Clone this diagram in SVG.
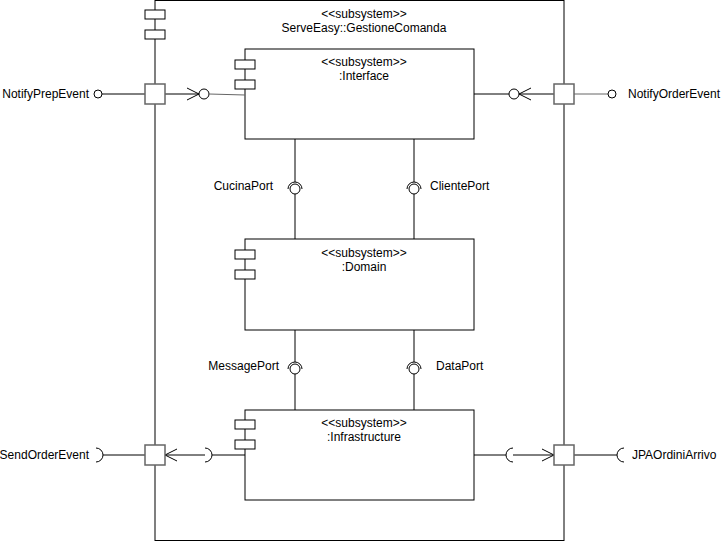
<svg xmlns="http://www.w3.org/2000/svg" width="721" height="542" viewBox="0 0 721 542">
<style>
.box{fill:#fff;stroke:#000;stroke-width:1}
.ico{fill:#fff;stroke:#000;stroke-width:1}
.port{fill:#fff;stroke:#666;stroke-width:1.5}
.ln{fill:none;stroke:#000;stroke-width:1}
.gl{fill:none;stroke:#666;stroke-width:1}
.t{font-family:"Liberation Sans",Arial,sans-serif;font-size:12px;fill:#000}
.c{text-anchor:middle}
.e{text-anchor:end}
</style>
<defs>
<marker id="open" markerWidth="14" markerHeight="14" refX="13" refY="7" orient="auto" markerUnits="userSpaceOnUse">
<path d="M1,1 L13,7 L1,13" fill="none" stroke="#000" stroke-width="1"/>
</marker>
</defs>
<g id="subsystem">
<rect class="box" x="155" y="0.5" width="409" height="540"/>
<rect class="ico" x="145" y="10" width="20" height="9"/>
<rect class="ico" x="145" y="30" width="20" height="9"/>
<text class="t c" x="364" y="18">&lt;&lt;subsystem&gt;&gt;</text>
<text class="t c" x="364" y="32">ServeEasy::GestioneComanda</text>
</g>
<g id="interface">
<rect class="box" x="245" y="49" width="229" height="90"/>
<rect class="ico" x="235" y="60" width="20" height="9"/>
<rect class="ico" x="235" y="80" width="20" height="9"/>
<text class="t c" x="364" y="66">&lt;&lt;subsystem&gt;&gt;</text>
<text class="t c" x="364" y="80">:Interface</text>
</g>
<g id="domain">
<rect class="box" x="245" y="239" width="229" height="91"/>
<rect class="ico" x="235" y="250" width="20" height="9"/>
<rect class="ico" x="235" y="270" width="20" height="9"/>
<text class="t c" x="364" y="257">&lt;&lt;subsystem&gt;&gt;</text>
<text class="t c" x="364" y="271">:Domain</text>
</g>
<g id="infrastructure">
<rect class="box" x="245" y="410" width="229" height="90"/>
<rect class="ico" x="235" y="420" width="20" height="9"/>
<rect class="ico" x="235" y="440" width="20" height="9"/>
<text class="t c" x="364" y="427">&lt;&lt;subsystem&gt;&gt;</text>
<text class="t c" x="364" y="441">:Infrastructure</text>
</g>
<g id="connectors">
<!-- top left -->
<line class="ln" x1="102" y1="94" x2="145" y2="94"/>
<circle class="ln" cx="98" cy="94" r="4"/>
<line class="ln" x1="165" y1="94" x2="199" y2="94" marker-end="url(#open)"/>
<circle class="ln" cx="204" cy="94" r="5"/>
<line class="gl" x1="209" y1="94" x2="245" y2="95"/>
<!-- top right -->
<line class="ln" x1="474" y1="94" x2="509" y2="94"/>
<circle class="ln" cx="514" cy="94" r="5"/>
<line class="ln" x1="554" y1="94" x2="519" y2="94" marker-end="url(#open)"/>
<line class="gl" x1="574" y1="94" x2="608" y2="94"/>
<circle class="ln" cx="612" cy="94" r="4"/>
<!-- vertical Interface-Domain -->
<line class="ln" x1="295" y1="139" x2="295" y2="182"/>
<path class="ln" d="M288,189 A7,7 0 0 1 302,189"/>
<circle class="ln" cx="295" cy="189" r="5"/>
<line class="ln" x1="295" y1="194" x2="295" y2="239"/>
<line class="ln" x1="414" y1="139" x2="414" y2="182"/>
<path class="ln" d="M407,189 A7,7 0 0 1 421,189"/>
<circle class="ln" cx="414" cy="189" r="5"/>
<line class="ln" x1="414" y1="194" x2="414" y2="239"/>
<!-- vertical Domain-Infrastructure -->
<line class="ln" x1="295" y1="330" x2="295" y2="362"/>
<path class="ln" d="M288,369 A7,7 0 0 1 302,369"/>
<circle class="ln" cx="295" cy="369" r="5"/>
<line class="ln" x1="295" y1="374" x2="295" y2="410"/>
<line class="ln" x1="414" y1="330" x2="414" y2="362"/>
<path class="ln" d="M407,369 A7,7 0 0 1 421,369"/>
<circle class="ln" cx="414" cy="369" r="5"/>
<line class="ln" x1="414" y1="374" x2="414" y2="410"/>
<!-- bottom left -->
<path class="ln" d="M96,448 A7,7 0 0 1 96,462"/>
<line class="ln" x1="103" y1="455" x2="145" y2="455"/>
<line class="ln" x1="205" y1="455" x2="165" y2="455" marker-end="url(#open)"/>
<path class="ln" d="M205,448 A7,7 0 0 1 205,462"/>
<line class="ln" x1="212" y1="455" x2="245" y2="455"/>
<!-- bottom right -->
<line class="ln" x1="474" y1="455" x2="506" y2="455"/>
<path class="ln" d="M513,448 A7,7 0 0 0 513,462"/>
<line class="ln" x1="513" y1="455" x2="554" y2="455" marker-end="url(#open)"/>
<line class="ln" x1="574" y1="455" x2="617" y2="455"/>
<path class="ln" d="M624,448 A7,7 0 0 0 624,462"/>
</g>
<g id="ports">
<rect class="port" x="145" y="84" width="20" height="20"/>
<rect class="port" x="554" y="84" width="20" height="20"/>
<rect class="port" x="145" y="445" width="20" height="20"/>
<rect class="port" x="554" y="445" width="20" height="20"/>
</g>
<g id="labels">
<text class="t e" x="89" y="98">NotifyPrepEvent</text>
<text class="t" x="628" y="98">NotifyOrderEvent</text>
<text class="t e" x="273" y="190">CucinaPort</text>
<text class="t" x="430" y="190">ClientePort</text>
<text class="t e" x="279" y="370">MessagePort</text>
<text class="t" x="436" y="370">DataPort</text>
<text class="t e" x="89" y="459">SendOrderEvent</text>
<text class="t" x="632" y="459">JPAOrdiniArrivo</text>
</g>
</svg>
